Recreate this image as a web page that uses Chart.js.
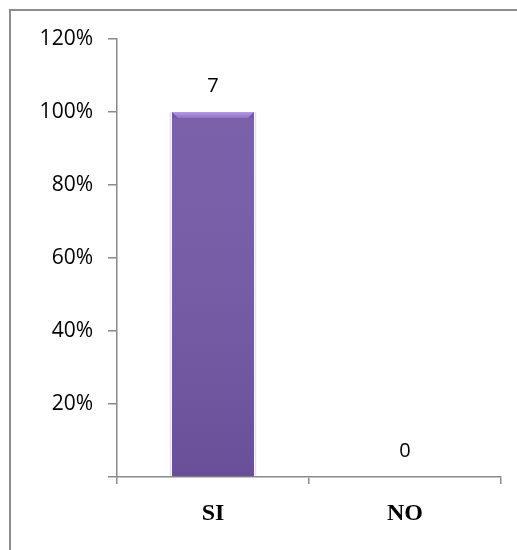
<!DOCTYPE html>
<html>
<head>
<meta charset="utf-8">
<script src="https://cdn.jsdelivr.net/npm/chart.js@4/dist/chart.umd.min.js"></script>
<style>
  html, body { margin: 0; padding: 0; background: #ffffff; }
  #wrap { position: relative; width: 517px; height: 550px; }
</style>
</head>
<body>
<div id="wrap"><canvas id="c" width="517" height="550"></canvas></div>
<script>
// Answers and how many people gave each one
const categories = ['SI', 'NO'];
const counts = [7, 0];
const total = counts.reduce((a, b) => a + b, 0);
// Share of the total, used for the bar height
const shares = counts.map(v => v / total);
// Y tick values (0 to 120 %)
const yTicks = [0, 0.2, 0.4, 0.6, 0.8, 1.0, 1.2];

const AXIS_GREY = '#8a8a8a';

// Horizontal shading that gives the bar its rounded look
function barFill(context) {
  const el = context.element;
  const chart = context.chart;
  if (!el || el.width === undefined || !chart.chartArea) return '#7257a3';
  const half = el.width / 2;
  const g = chart.ctx.createLinearGradient(el.x - half, 0, el.x + half, 0);
  g.addColorStop(0.00, '#4a3a66');
  g.addColorStop(0.05, '#66509a');
  g.addColorStop(0.15, '#7459a8');
  g.addColorStop(0.55, '#7357a5');
  g.addColorStop(0.88, '#6b509c');
  g.addColorStop(0.96, '#574485');
  g.addColorStop(1.00, '#433560');
  return g;
}

// Outer frame of the chart
const framePlugin = {
  id: 'frame',
  beforeDraw(chart) {
    const ctx = chart.ctx;
    ctx.save();
    ctx.fillStyle = '#ffffff';
    ctx.fillRect(0, 0, chart.width, chart.height);
    ctx.strokeStyle = '#8c8c8c';
    ctx.lineWidth = 2;
    ctx.strokeRect(10, 10, chart.width + 50, chart.height + 50);
    ctx.restore();
  }
};

// Bevel highlight on top of the bar, then the count above each bar
const barLabelPlugin = {
  id: 'barLabels',
  afterDatasetsDraw(chart) {
    const ctx = chart.ctx;
    const meta = chart.getDatasetMeta(0);
    meta.data.forEach((bar, i) => {
      const h = bar.base - bar.y;
      if (h > 8) {
        const half = bar.width / 2;
        const l = bar.x - half, r = bar.x + half, t = bar.y;
        ctx.save();
        // light top bevel
        ctx.beginPath();
        ctx.moveTo(l, t);
        ctx.lineTo(r, t);
        ctx.lineTo(r - 6, t + 6);
        ctx.lineTo(l + 6, t + 6);
        ctx.closePath();
        const tg = ctx.createLinearGradient(0, t, 0, t + 6);
        tg.addColorStop(0, '#b49ae6');
        tg.addColorStop(1, '#8f72c4');
        ctx.fillStyle = tg;
        ctx.fill();
        // slight darkening toward the base
        const vg = ctx.createLinearGradient(0, t + 6, 0, bar.base);
        vg.addColorStop(0, 'rgba(255,255,255,0.06)');
        vg.addColorStop(1, 'rgba(40,20,70,0.12)');
        ctx.fillStyle = vg;
        ctx.fillRect(l, t + 6, bar.width, h - 6);
        // soft lavender halo at the sides
        ctx.strokeStyle = 'rgba(200,180,235,0.45)';
        ctx.lineWidth = 1.5;
        ctx.beginPath();
        ctx.moveTo(l - 1.5, bar.base);
        ctx.lineTo(l - 1.5, t);
        ctx.moveTo(r + 1.5, bar.base);
        ctx.lineTo(r + 1.5, t);
        ctx.stroke();
        ctx.restore();
      }
      ctx.save();
      ctx.fillStyle = '#000000';
      ctx.font = '20px "Open Sans"';
      ctx.textAlign = 'center';
      ctx.textBaseline = 'middle';
      ctx.fillText(String(counts[i]), bar.x, bar.y - 26);
      ctx.restore();
    });
  }
};

new Chart(document.getElementById('c'), {
  type: 'bar',
  data: {
    labels: categories,
    datasets: [{
      data: shares,
      backgroundColor: barFill,
      borderWidth: 0,
      barPercentage: 0.427,
      categoryPercentage: 1.0
    }]
  },
  options: {
    responsive: false,
    animation: false,
    devicePixelRatio: 1,
    layout: { padding: { top: 39, right: 16, bottom: 0, left: 0 } },
    plugins: {
      legend: { display: false },
      tooltip: { enabled: false }
    },
    scales: {
      x: {
        afterFit(scale) { scale.height = 73; },
        grid: {
          offset: true,
          drawOnChartArea: false,
          drawTicks: true,
          tickLength: 7,
          color: AXIS_GREY,
          lineWidth: 1.5
        },
        border: { color: AXIS_GREY, width: 1.5 },
        ticks: {
          color: '#000000',
          padding: 15,
          font: { family: '"Liberation Serif", "Times New Roman", serif', size: 24, weight: 'bold' }
        }
      },
      y: {
        min: 0,
        max: 1.2,
        afterFit(scale) { scale.width = 117; },
        afterBuildTicks(scale) { scale.ticks = yTicks.map(v => ({ value: v })); },
        grid: {
          drawOnChartArea: false,
          drawTicks: true,
          tickLength: 9,
          color: AXIS_GREY,
          lineWidth: 1.5
        },
        border: { color: AXIS_GREY, width: 1.5 },
        ticks: {
          color: '#000000',
          padding: 15,
          font: { family: '"Open Sans", sans-serif', size: 21 },
          callback(value) {
            const pct = Math.round(value * 100);
            return pct === 0 ? '' : pct + '%';
          }
        }
      }
    }
  },
  plugins: [framePlugin, barLabelPlugin]
});
</script>
</body>
</html>
